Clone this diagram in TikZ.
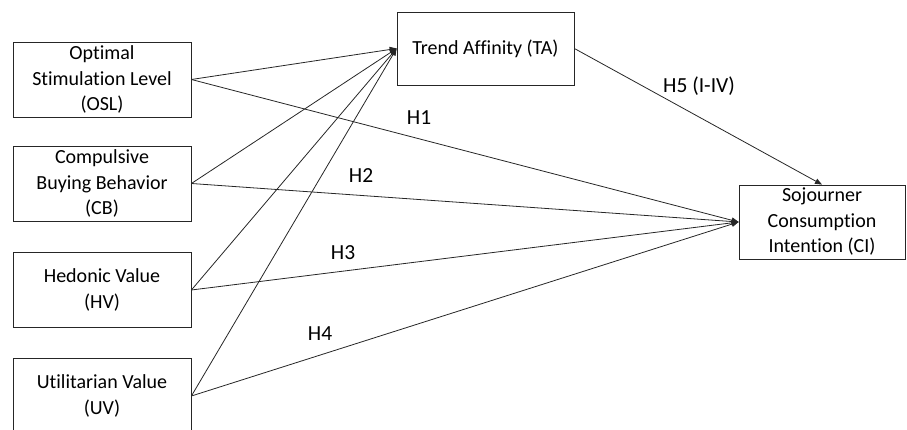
\documentclass[tikz,border=0pt]{standalone}
\usepackage{fontspec}
\setmainfont[Ligatures=NoCommon]{Carlito}
\usepackage{tikz}
\usetikzlibrary{arrows.meta,positioning}

\tikzset{
  var/.style={draw=black!85,line width=0.8pt,rectangle,align=center,
    minimum width=178,minimum height=75,inner sep=0pt,
    font=\fontsize{20}{25.5}\selectfont},
  link/.style={draw=black!85,line width=0.8pt,-{Triangle[length=7pt,width=5.5pt]}},
  hyp/.style={inner sep=0pt,font=\fontsize{21.5}{23}\selectfont}
}

\begin{document}
\begin{tikzpicture}[x=1pt,y=-1pt]
\useasboundingbox (0,0) rectangle (907,430);
    %the predictors
    \node[var] (OSL) at (102,79.5) {Optimal\\Stimulation Level\\(OSL)};
    \node[var] (CB) at (102,183.5) {Compulsive\\Buying Behavior\\(CB)};
    \node[var] (HV) at (102,290) {Hedonic Value\\(HV)};
    \node[var] (UV) at (102,396) {Utilitarian Value\\(UV)};
    %the mediator and the outcome
    \node[var,minimum width=177,minimum height=73] (TA) at (485.5,48.5) {Trend Affinity (TA)};
    \node[var,minimum width=166,minimum height=74] (CI) at (822,222) {Sojourner\\Consumption\\Intention (CI)};
%the arrows
    \begin{scope}[every path/.style={link}]
       \draw (OSL.east) -- (TA.west);
       \draw (CB.east) -- (TA.west);
       \draw (HV.east) -- (TA.west);
       \draw (UV.east) -- (TA.west);
       \draw (OSL.east) -- (CI.west);
       \draw (CB.east) -- (CI.west);
       \draw (HV.east) -- (CI.west);
       \draw (UV.east) -- (CI.west);
       \draw (TA.east) -- (CI.north);
    \end{scope}
%hypotheses
    \node[hyp] (h1) at (419,117.5) {H1};
    \node[hyp] (h2) at (361,176) {H2};
    \node[hyp] (h3) at (343,253) {H3};
    \node[hyp] (h4) at (320,334) {H4};
    \node[hyp] (h5) at (699,86) {H5 (I-IV)};
\end{tikzpicture}
\end{document}
